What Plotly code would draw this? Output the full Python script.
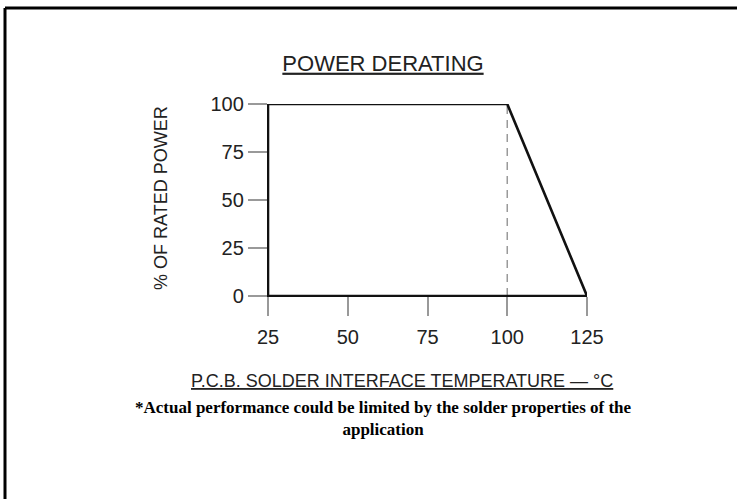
import plotly.graph_objects as go

# ---- data ----
temperature_c = [25, 25, 100, 125, 25]
rated_power_pct = [0, 100, 100, 0, 0]
knee_temp = [100, 100]
knee_power = [0, 100]
x_ticks = [25, 50, 75, 100, 125]
y_ticks = [0, 25, 50, 75, 100]

title_text = "POWER DERATING"
y_title = "% OF RATED POWER"
x_title = "P.C.B. SOLDER INTERFACE TEMPERATURE \u2014 \u00b0C"
footnote = "*Actual performance could be limited by the solder properties of the<br>application"

W, H = 737, 499
L, R, T, B = 268, 150, 104, 203
PW, PH = W - L - R, H - T - B

def px_x(px):
    return (px - L) / PW

def px_y(py):
    return (H - B - py) / PH

SANS = "Liberation Sans, Arial, sans-serif"
SERIF = "Liberation Serif, Times New Roman, serif"

fig = go.Figure()
fig.add_trace(go.Scatter(
    x=knee_temp, y=knee_power, mode="lines",
    line=dict(color="#9a9a9a", width=1.5, dash="8px,6px"),
    hoverinfo="skip", showlegend=False))
fig.add_trace(go.Scatter(
    x=temperature_c, y=rated_power_pct, mode="lines",
    line=dict(color="#111111", width=2.6),
    hoverinfo="skip", showlegend=False))

axis_common = dict(
    showgrid=False, zeroline=False,
    showline=True, linecolor="#111111", linewidth=1.3,
    ticks="outside", ticklen=19, tickwidth=1.5, tickcolor="#999999",
    tickfont=dict(family=SANS, size=20, color="#222222"),
)
fig.update_xaxes(range=[25, 125], tickmode="array", tickvals=x_ticks,
                 ticktext=[str(v) for v in x_ticks], ticklabelstandoff=4,
                 **axis_common)
fig.update_yaxes(range=[0, 100], tickmode="array", tickvals=y_ticks,
                 ticktext=[str(v) for v in y_ticks], ticklabelstandoff=0,
                 **axis_common)

fig.update_layout(
    width=W, height=H,
    margin=dict(l=L, r=R, t=T, b=B),
    paper_bgcolor="white", plot_bgcolor="white",
    title=dict(text=title_text, x=383 / W, xanchor="center",
               y=1 - 63 / H, yanchor="middle",
               font=dict(family=SANS, size=22, color="#222222", lineposition="under")),
    annotations=[
        dict(text=y_title, textangle=-90, xref="paper", yref="paper",
             x=px_x(161), y=px_y(198), xanchor="center", yanchor="middle",
             showarrow=False, font=dict(family=SANS, size=18, color="#222222")),
        dict(text=x_title, xref="paper", yref="paper",
             x=px_x(402), y=px_y(381), xanchor="center", yanchor="middle",
             showarrow=False,
             font=dict(family=SANS, size=18, color="#222222", lineposition="under")),
        dict(text=footnote, xref="paper", yref="paper",
             x=px_x(383), y=px_y(418), xanchor="center", yanchor="middle",
             align="center", showarrow=False,
             font=dict(family=SERIF, size=17, color="#000000", weight="bold")),
    ],
    shapes=[
        dict(type="line", xref="paper", yref="paper",
             x0=px_x(5), x1=px_x(745), y0=px_y(8), y1=px_y(8),
             line=dict(color="#000000", width=3), layer="below"),
        dict(type="line", xref="paper", yref="paper",
             x0=px_x(5), x1=px_x(5), y0=px_y(8), y1=px_y(510),
             line=dict(color="#000000", width=3), layer="below"),
    ],
)

fig.write_html(
    "out.html",
    config={"displayModeBar": False},
    post_script="document.body.style.margin='0';document.body.style.overflow='hidden';",
)
